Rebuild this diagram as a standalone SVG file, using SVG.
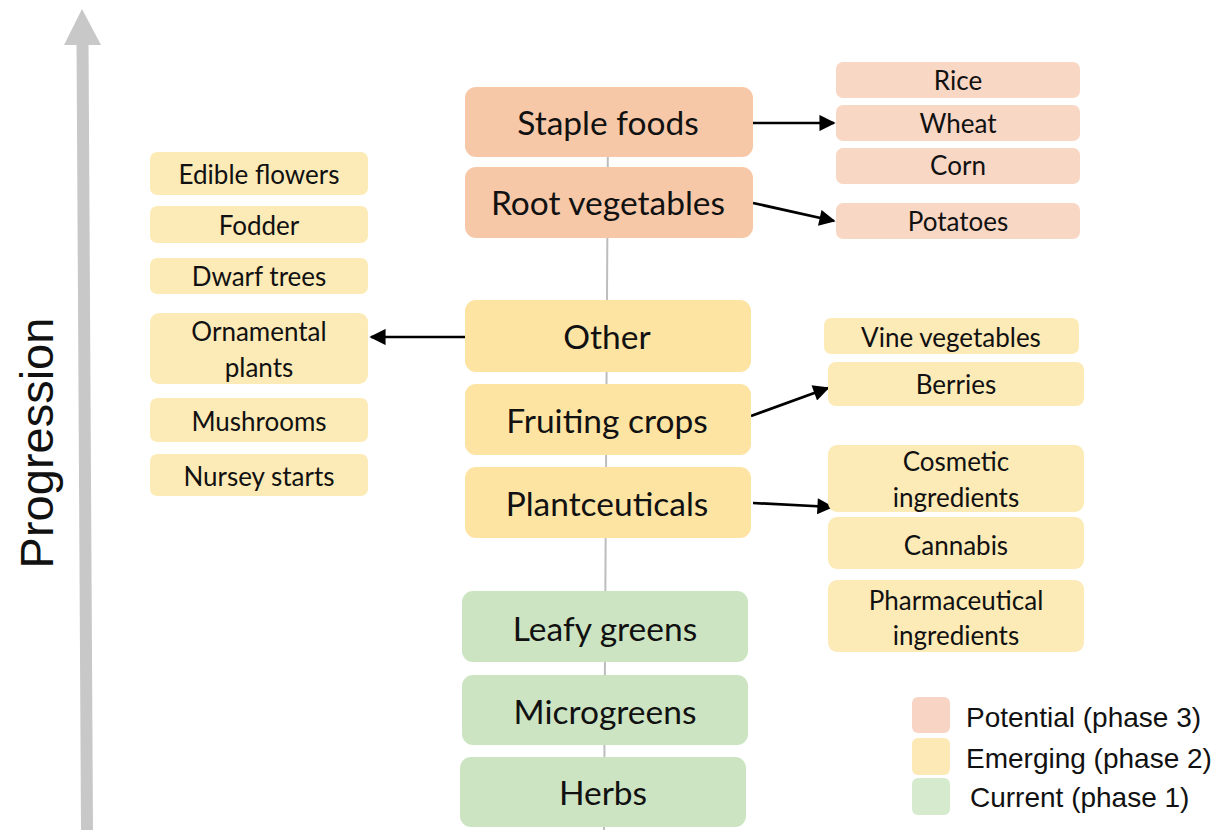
<svg xmlns="http://www.w3.org/2000/svg" width="1225" height="830" viewBox="0 0 1225 830">
<style>
.main{font-family:Lato,"Open Sans",sans-serif;font-size:33.5px;fill:#111;text-anchor:middle;dominant-baseline:central}
.sub{font-family:Lato,"Open Sans",sans-serif;font-size:26px;fill:#111;text-anchor:middle;dominant-baseline:central}
.leg{font-family:"Liberation Sans",Arial,sans-serif;font-size:28px;fill:#111;dominant-baseline:central}
.p3{fill:#f6c8a8}
.p3s{fill:#f9d7c5}
.p2{fill:#fde4a3}
.p2s{fill:#fdebb7}
.p1{fill:#cce4c1}
.arr{stroke:#000;stroke-width:2.7;fill:none;marker-end:url(#ah)}
</style>
<defs>
<marker id="ah" viewBox="0 0 10 10" refX="9" refY="5" markerWidth="6.5" markerHeight="6" markerUnits="strokeWidth" orient="auto">
<path d="M0,0 L10,5 L0,10 Z" fill="#000"/>
</marker>
</defs>
<rect width="1225" height="830" fill="#fff"/>
<g id="progression">
<line x1="82.5" y1="40" x2="87" y2="830" stroke="#c8c8c8" stroke-width="12"/>
<polygon points="82,9 101,45 64,45" fill="#c8c8c8"/>
<text class="leg" style="font-size:47px" text-anchor="middle" transform="translate(36,443) rotate(-90)">Progression</text>
</g>
<g id="connectors">
<line x1="608" y1="120" x2="604" y2="830" stroke="#bdbdbd" stroke-width="2"/>
<line class="arr" x1="753" y1="123" x2="834" y2="123"/>
<line class="arr" x1="753" y1="203" x2="834" y2="221"/>
<line class="arr" x1="465" y1="337" x2="371" y2="337"/>
<line class="arr" x1="751" y1="416" x2="828" y2="388"/>
<line class="arr" x1="753" y1="503" x2="832" y2="507"/>
</g>
<g id="staple"><rect class="p3" x="465" y="87" width="288" height="70" rx="11"/><text class="main" x="608" y="122">Staple foods</text></g>
<g id="root"><rect class="p3" x="465" y="167" width="288" height="71" rx="11"/><text class="main" x="608" y="202">Root vegetables</text></g>
<g id="other"><rect class="p2" x="465" y="300" width="286" height="72" rx="11"/><text class="main" x="607" y="336">Other</text></g>
<g id="fruiting"><rect class="p2" x="465" y="384" width="286" height="71" rx="11"/><text class="main" x="607" y="420">Fruiting crops</text></g>
<g id="plantceuticals"><rect class="p2" x="465" y="467" width="286" height="71" rx="11"/><text class="main" x="607" y="503">Plantceuticals</text></g>
<g id="leafy"><rect class="p1" x="462" y="591" width="286" height="71" rx="11"/><text class="main" x="605" y="628">Leafy greens</text></g>
<g id="micro"><rect class="p1" x="462" y="675" width="286" height="70" rx="11"/><text class="main" x="605" y="711">Microgreens</text></g>
<g id="herbs"><rect class="p1" x="460" y="757" width="286" height="70" rx="11"/><text class="main" x="603" y="792">Herbs</text></g>
<g id="rice"><rect class="p3s" x="836" y="62" width="244" height="36" rx="7"/><text class="sub" x="958" y="80">Rice</text></g>
<g id="wheat"><rect class="p3s" x="836" y="105" width="244" height="36" rx="7"/><text class="sub" x="958" y="123">Wheat</text></g>
<g id="corn"><rect class="p3s" x="836" y="148" width="244" height="36" rx="7"/><text class="sub" x="958" y="165">Corn</text></g>
<g id="potatoes"><rect class="p3s" x="836" y="203" width="244" height="36" rx="7"/><text class="sub" x="958" y="221">Potatoes</text></g>
<g id="vine"><rect class="p2s" x="824" y="318" width="255" height="36" rx="7"/><text class="sub" x="951" y="337">Vine vegetables</text></g>
<g id="berries"><rect class="p2s" x="828" y="362" width="256" height="44" rx="8"/><text class="sub" x="956" y="384">Berries</text></g>
<g id="cosmetic"><rect class="p2s" x="828" y="445" width="256" height="67" rx="9"/><text class="sub" x="956" y="461">Cosmetic</text><text class="sub" x="956" y="497">ingredients</text></g>
<g id="cannabis"><rect class="p2s" x="828" y="517" width="256" height="52" rx="9"/><text class="sub" x="956" y="545">Cannabis</text></g>
<g id="pharma"><rect class="p2s" x="828" y="580" width="256" height="72" rx="9"/><text class="sub" x="956" y="600">Pharmaceutical</text><text class="sub" x="956" y="635">ingredients</text></g>
<g id="edible"><rect class="p2s" x="150" y="152" width="218" height="43" rx="7"/><text class="sub" x="259" y="174">Edible flowers</text></g>
<g id="fodder"><rect class="p2s" x="150" y="206" width="218" height="37" rx="7"/><text class="sub" x="259" y="225">Fodder</text></g>
<g id="dwarf"><rect class="p2s" x="150" y="258" width="218" height="36" rx="7"/><text class="sub" x="259" y="276">Dwarf trees</text></g>
<g id="ornamental"><rect class="p2s" x="150" y="313" width="218" height="71" rx="9"/><text class="sub" x="259" y="331">Ornamental</text><text class="sub" x="259" y="367">plants</text></g>
<g id="mushrooms"><rect class="p2s" x="150" y="398" width="218" height="44" rx="7"/><text class="sub" x="259" y="421">Mushrooms</text></g>
<g id="nursey"><rect class="p2s" x="150" y="454" width="218" height="42" rx="7"/><text class="sub" x="259" y="476">Nursey starts</text></g>
<g id="legend">
<rect x="912" y="697" width="38" height="36" rx="6" fill="#f8d4c5"/>
<rect x="912" y="738" width="38" height="37" rx="6" fill="#fde9b5"/>
<rect x="912" y="778" width="38" height="37" rx="6" fill="#d6eacd"/>
<text class="leg" x="966" y="717">Potential (phase 3)</text>
<text class="leg" x="966" y="758">Emerging (phase 2)</text>
<text class="leg" x="970" y="797">Current (phase 1)</text>
</g>
</svg>
